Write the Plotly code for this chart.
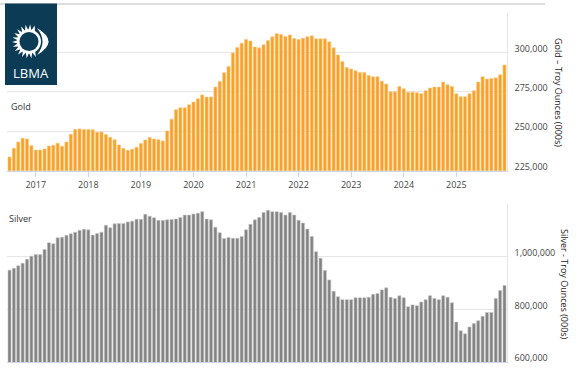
import math
import plotly.graph_objects as go

# ---------------- data ----------------
months = [f"{y}-{m:02d}" for y in range(2016, 2026) for m in range(1, 13)][6:]  # Jul 2016 .. Dec 2025

gold = [
    233.7, 239.2, 243.2, 245.6, 245.1, 240.9,
    238.1, 238.1, 238.8, 240.7, 241.1, 242.4, 240.5, 243.2, 248.1, 251.1, 251.5, 251.1,
    251.1, 250.9, 249.4, 249.6, 247.9, 246.2, 244.7, 241.3, 239.2, 237.9, 238.6, 239.8,
    242.2, 244.5, 246.0, 245.1, 244.7, 243.9, 250.2, 257.7, 263.6, 264.9, 264.9, 266.8,
    268.5, 270.6, 273.0, 271.7, 271.7, 278.0, 281.6, 287.1, 291.0, 299.7, 303.1, 305.8,
    308.2, 307.3, 303.5, 302.9, 304.9, 307.5, 309.9, 311.9, 311.3, 310.1, 311.1, 308.9,
    308.2, 309.0, 309.9, 310.5, 308.6, 308.6, 308.6, 306.7, 302.9, 298.4, 294.2, 290.5,
    289.5, 288.4, 287.2, 287.2, 285.3, 284.6, 284.6, 281.8, 280.0, 275.0, 275.0, 278.4,
    276.9, 274.8, 274.8, 274.4, 273.8, 275.7, 277.4, 278.0, 278.0, 281.2, 279.5, 278.4,
    273.8, 271.9, 271.9, 273.8, 275.7, 281.2, 284.6, 283.1, 283.5, 283.9, 285.8, 292.0,
]
gold = [v * 1000 for v in gold]

silver = [
    950, 957, 967, 976, 991, 1003,
    1009, 1009, 1028, 1054, 1050, 1073, 1075, 1082, 1088, 1094, 1101, 1105,
    1103, 1083, 1089, 1094, 1120, 1111, 1126, 1127, 1127, 1133, 1136, 1143,
    1143, 1162, 1155, 1149, 1139, 1139, 1141, 1142, 1144, 1150, 1159, 1159,
    1163, 1166, 1172, 1144, 1141, 1113, 1092, 1070, 1074, 1071, 1071, 1078,
    1103, 1124, 1141, 1150, 1169, 1177, 1172, 1172, 1169, 1159, 1169, 1159,
    1139, 1129, 1106, 1078, 1020, 995, 949, 913, 870, 849, 838, 838,
    838, 845, 845, 845, 847, 858, 861, 875, 883, 847, 842, 853,
    845, 811, 818, 815, 829, 838, 853, 842, 838, 853, 847, 826,
    753, 720, 708, 734, 747, 758, 775, 789, 789, 842, 873, 892,
]
silver = [v * 1000 for v in silver]

year_ticks = [f"{y}-01" for y in range(2017, 2026)]
year_labels = [str(y) for y in range(2017, 2026)]

gold_tickvals = [225000, 250000, 275000, 300000, 325000]
gold_ticktext = ["225,000", "250,000", "275,000", "300,000", ""]
silver_tickvals = [600000, 800000, 1000000, 1200000]
silver_ticktext = ["600,000", "800,000", "1,000,000", ""]

# ---------------- layout helpers ----------------
W, H = 578, 378
FONT = "Open Sans"


def fx(x):
    return x / W


def fy(y):
    return 1 - y / H


fig = go.Figure()
fig.add_trace(go.Bar(x=months, y=gold, xaxis="x", yaxis="y",
                     marker=dict(color="#f7a12a", line=dict(color="#fcc878", width=0.6)),
                     hoverinfo="x+y", name="Gold"))
fig.add_trace(go.Bar(x=months, y=silver, xaxis="x2", yaxis="y2",
                     marker=dict(color="#838383", line=dict(color="#c4c4c4", width=0.6)),
                     hoverinfo="x+y", name="Silver"))

xdom = [fx(7.3), fx(506.7)]
common_x = dict(type="category", range=[-0.5, len(months) - 0.5], domain=xdom,
                showgrid=False, zeroline=False, showline=True, linecolor="#ccd6eb",
                linewidth=1, fixedrange=True)

fig.update_layout(
    template="none",
    width=W, height=H, autosize=False,
    margin=dict(l=0, r=0, t=0, b=0, pad=0),
    paper_bgcolor="white", plot_bgcolor="white",
    showlegend=False, bargap=0.3,
    font=dict(family=FONT, size=9, color="#444"),
    xaxis=dict(**common_x, anchor="y", tickvals=year_ticks, ticktext=year_labels,
               ticks="outside", ticklen=5, tickcolor="#ccd6eb", tickwidth=1,
               tickfont=dict(size=9, color="#444")),
    xaxis2=dict(**common_x, anchor="y2", showticklabels=False, ticks=""),
    yaxis=dict(domain=[fy(170.7), fy(13)], range=[225000, 325000], side="right",
               anchor="x", tickvals=gold_tickvals, ticktext=gold_ticktext,
               showgrid=True, gridcolor="#e6e6e6", gridwidth=1, zeroline=False,
               showline=True, linecolor="#e3e6ec", ticks="", ticklabelstandoff=5,
               ticklabelshift=-4, tickfont=dict(size=9, color="#444"), fixedrange=True),
    yaxis2=dict(domain=[fy(362.3), fy(204.3)], range=[600000, 1200000], side="right",
                anchor="x2", tickvals=silver_tickvals, ticktext=silver_ticktext,
                showgrid=True, gridcolor="#e6e6e6", gridwidth=1, zeroline=False,
                showline=True, linecolor="#e3e6ec", ticks="", ticklabelstandoff=5,
                ticklabelshift=-4, tickfont=dict(size=9, color="#444"), fixedrange=True),
)

annotations = [
    dict(text="Gold", x=fx(8.5), y=fy(106.7), xanchor="left", yanchor="middle",
         font=dict(size=9, color="#333")),
    dict(text="Silver", x=fx(7), y=fy(218.3), xanchor="left", yanchor="middle",
         font=dict(size=9, color="#333")),
    dict(text="Gold – Troy Ounces (000s)", x=fx(559), y=fy(92), textangle=90,
         xanchor="center", yanchor="middle", font=dict(size=9, color="#222")),
    dict(text="Silver - Troy Ounces (000s)", x=fx(565), y=fy(284), textangle=90,
         xanchor="center", yanchor="middle", font=dict(size=9, color="#222")),
    dict(text="LBMA", x=fx(31), y=fy(72.5), xanchor="center", yanchor="middle",
         font=dict(size=13, color="white", family=FONT)),
]
for a in annotations:
    a.update(xref="paper", yref="paper", showarrow=False)
fig.update_layout(annotations=annotations)

# ---------------- decorative shapes (page line + logo) ----------------
shapes = []
shapes.append(dict(type="line", xref="paper", yref="paper", x0=0, x1=fx(545), y0=fy(4), y1=fy(4),
                   line=dict(color="#dedede", width=2), layer="above"))
shapes.append(dict(type="rect", xref="paper", yref="paper", x0=fx(5), x1=fx(57), y0=fy(85),
                   y1=fy(3.5), fillcolor="#0c3c55", line=dict(width=0), layer="above"))


def path_from(points):
    s = "M " + " L ".join(f"{fx(px):.5f},{fy(py):.5f}" for px, py in points) + " Z"
    return s


cx, cy = 29.0, 41.5
pts = []
angles = list(range(70, 295, 16))
for i, a in enumerate(angles):
    ra = math.radians(a)
    rb = math.radians(a + 8)
    pts.append((cx + 17 * math.cos(ra), cy - 17 * math.sin(ra)))
    pts.append((cx + 11.5 * math.cos(rb), cy - 11.5 * math.sin(rb)))
shapes.append(dict(type="path", xref="paper", yref="paper", path=path_from(pts),
                   fillcolor="white", line=dict(width=0), layer="above"))
shapes.append(dict(type="circle", xref="paper", yref="paper", x0=fx(cx - 12), x1=fx(cx + 12),
                   y0=fy(cy + 12), y1=fy(cy - 12), fillcolor="white", line=dict(width=0),
                   layer="above"))
shapes.append(dict(type="circle", xref="paper", yref="paper", x0=fx(cx - 9.5), x1=fx(cx + 9.5),
                   y0=fy(cy + 9.5), y1=fy(cy - 9.5), fillcolor="#0c3c55", line=dict(width=0),
                   layer="above"))
# crescent
cres = (f"M {fx(37):.5f},{fy(28):.5f} Q {fx(60):.5f},{fy(41.5):.5f} {fx(37):.5f},{fy(55):.5f} "
        f"Q {fx(48):.5f},{fy(41.5):.5f} {fx(37):.5f},{fy(28):.5f} Z")
shapes.append(dict(type="path", xref="paper", yref="paper", path=cres, fillcolor="white",
                   line=dict(width=0), layer="above"))
fig.update_layout(shapes=shapes)

fig.write_html("out.html",
               config={"displayModeBar": False},
               post_script="document.body.style.margin='0px';document.body.style.overflow='hidden';")
